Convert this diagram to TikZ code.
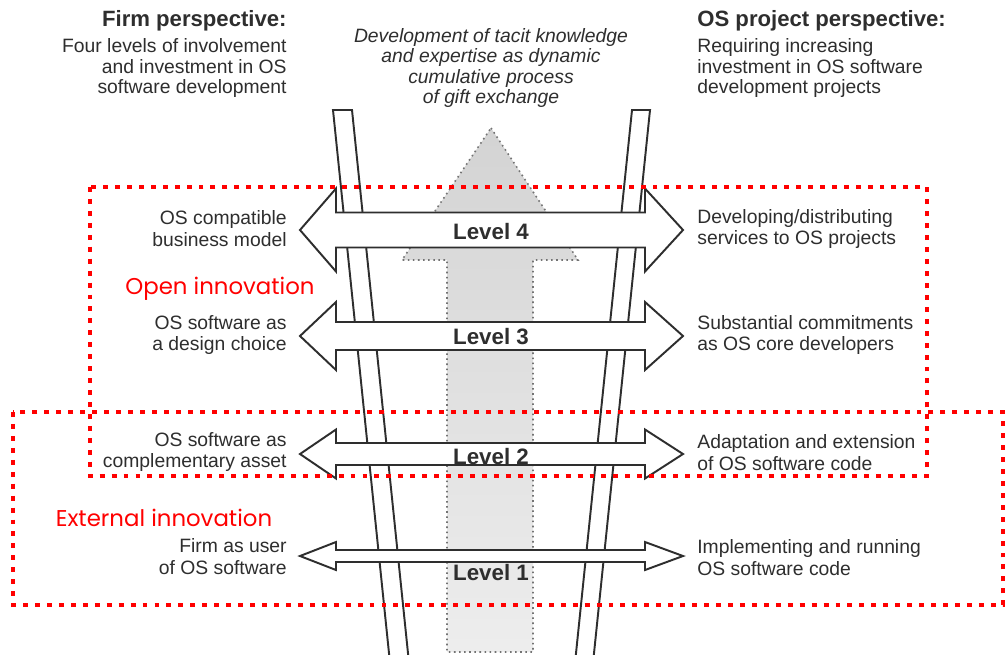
\documentclass[tikz,border=0pt]{standalone}
\usepackage{fontspec}
\setmainfont{Liberation Sans}
\newfontfamily\gothicfont{Poppins}
\usetikzlibrary{positioning}
\definecolor{inkgray}{HTML}{2E2E2E}
\definecolor{boxred}{HTML}{FF0000}
\tikzstyle{rail} = [draw=inkgray,
                    line width=1.1pt,
                    fill=white,
                   ]
\tikzstyle{levelarrow} = [draw=inkgray,
                          line width=1.1pt,
                          fill=white,
                          line join=miter,
                         ]
\tikzstyle{giftarrow} = [draw=black!55,
                         dotted,
                         line width=0.9pt,
                         top color=black!17,
                         bottom color=black!7,
                        ]
\tikzstyle{redbox} = [draw=boxred,
                      line width=2.3pt,
                      dash pattern=on 2.8pt off 4pt,
                     ]
\tikzstyle{lefttext} = [anchor=east,
                        align=right,
                        inner sep=0pt,
                        text=inkgray,
                        font=\fontsize{11}{12.5}\selectfont,
                       ]
\tikzstyle{righttext} = [anchor=west,
                         align=left,
                         inner sep=0pt,
                         text=inkgray,
                         font=\fontsize{11}{12.5}\selectfont,
                        ]
\tikzstyle{headtext} = [inner sep=0pt,
                        text=inkgray,
                        font=\fontsize{11}{11.4}\selectfont,
                       ]
\tikzstyle{headtitle} = [inner sep=0pt,
                         text=inkgray,
                         font=\fontsize{12.6}{14}\selectfont\bfseries,
                        ]
\tikzstyle{leveltext} = [inner sep=0pt,
                         text=inkgray,
                         font=\fontsize{12.7}{14}\selectfont\bfseries,
                        ]
\tikzstyle{redtext} = [inner sep=0pt,
                       text=boxred,
                       font=\fontsize{13}{15}\selectfont\gothicfont,
                      ]
% double arrow across the ladder: centre y, half shaft, half head
\newcommand{\LevelArrow}[3]{%
  \draw [levelarrow] (300,#1) -- (336,#1-#3) -- (336,#1-#2) -- (645,#1-#2) -- (645,#1-#3)
    -- (683,#1) -- (645,#1+#3) -- (645,#1+#2) -- (336,#1+#2) -- (336,#1+#3) -- cycle;}

\begin{document}
\begin{tikzpicture}[x=0.02cm, y=-0.02cm]

\clip (0,0) rectangle (1006,654);
\fill [white] (0,0) rectangle (1006,654);

% tacit knowledge arrow
\draw [giftarrow] (491,128) -- (578,260) -- (533,260) -- (533,652) -- (447,652) -- (447,260) -- (402,260) -- cycle;

% ladder rails
\draw [rail] (333,110) -- (352,110) -- (408.7,660) -- (389.7,660) -- cycle;
\draw [rail] (632,110) -- (650,110) -- (593.3,660) -- (575.3,660) -- cycle;

% the four levels
\LevelArrow{230}{17.5}{41.5}
\LevelArrow{336}{14}{34}
\LevelArrow{454}{11}{24.5}
\LevelArrow{556}{6}{14}

\node (level4) [leveltext] at (491,232) {Level 4};
\node (level3) [leveltext] at (491,337) {Level 3};
\node (level2) [leveltext] at (491,457) {Level 2};
\node (level1) [leveltext] at (491,573) {Level 1};

% headers
\node (firm_title) [headtitle, anchor=east] at (287,21) {Firm perspective:};
\node (firm_text) [headtext, anchor=east, align=right] at (287,68) {Four levels of involvement\\and investment in OS\\software development};
\node (gift_text) [headtext, align=center, font=\fontsize{11}{11.4}\selectfont\itshape] at (491,68) {Development of tacit knowledge\\and expertise as dynamic\\cumulative process\\of gift exchange};
\node (os_title) [headtitle, anchor=west] at (697,21) {OS project perspective:};
\node (os_text) [headtext, anchor=west, align=left] at (697,68) {Requiring increasing\\investment in OS software\\development projects};

% firm side
\node (firm4) [lefttext] at (287,229) {OS compatible\\business model};
\node (firm3) [lefttext] at (287,335) {OS software as\\a design choice};
\node (firm2) [lefttext] at (287,452) {OS software as\\complementary asset};
\node (firm1) [lefttext] at (287,557) {Firm as user\\of OS software};

% project side
\node (os4) [righttext] at (697,229) {Developing/distributing\\services to OS projects};
\node (os3) [righttext] at (697,335) {Substantial commitments\\as OS core developers};
\node (os2) [righttext] at (697,453) {Adaptation and extension\\of OS software code};
\node (os1) [righttext] at (697,558) {Implementing and running\\OS software code};

% innovation areas
\draw [redbox] (90,187) rectangle (927,476);
\draw [redbox] (13,412) rectangle (1003,605);
\node (open_lbl) [redtext] at (220,289) {Open innovation};
\node (ext_lbl) [redtext] at (164,518) {External innovation};

\end{tikzpicture}
\end{document}
